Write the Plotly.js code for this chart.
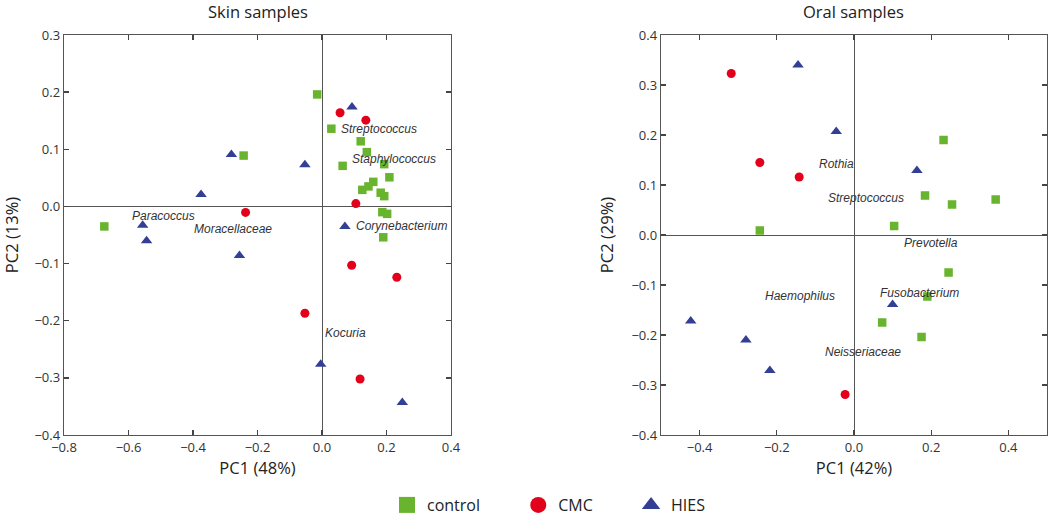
<!DOCTYPE html>
<html>
<head>
<meta charset="utf-8">
<script src="https://cdn.plot.ly/plotly-3.0.1.min.js"></script>
<style>html,body{margin:0;padding:0;background:#fff;}#chart{width:1050px;height:515px;}</style>
</head>
<body>
<div id="chart"></div>
<script>
// ---- Skin samples ----
const skinControlX = [-0.675, -0.243, -0.015, 0.029, 0.120, 0.139, 0.064, 0.193, 0.209, 0.159, 0.144, 0.125, 0.182, 0.193, 0.187, 0.202, 0.190];
const skinControlY = [-0.035, 0.089, 0.196, 0.136, 0.114, 0.095, 0.071, 0.074, 0.051, 0.043, 0.035, 0.029, 0.024, 0.018, -0.010, -0.013, -0.054];
const skinCMCX = [0.056, 0.136, 0.105, -0.237, 0.092, 0.232, -0.053, 0.118];
const skinCMCY = [0.164, 0.151, 0.005, -0.0105, -0.103, -0.124, -0.187, -0.302];
const skinHIESX = [0.093, -0.053, -0.281, -0.375, -0.556, -0.544, -0.256, 0.071, -0.004, 0.249];
const skinHIESY = [0.174, 0.073, 0.091, 0.021, -0.033, -0.060, -0.086, -0.035, -0.276, -0.343];
const skinLabels = ["Paracoccus", "Moracellaceae", "Streptococcus", "Staphylococcus", "Corynebacterium", "Kocuria"];
const skinLabelX = [-0.492, -0.276, 0.178, 0.223, 0.245, 0.073];
const skinLabelY = [-0.016, -0.040, 0.136, 0.083, -0.0345, -0.222];

// ---- Oral samples ----
const oralControlX = [0.232, 0.184, 0.254, 0.367, 0.104, -0.244, 0.245, 0.190, 0.073, 0.175];
const oralControlY = [0.190, 0.079, 0.061, 0.071, 0.018, 0.009, -0.075, -0.123, -0.175, -0.204];
const oralCMCX = [-0.318, -0.244, -0.142, -0.023];
const oralCMCY = [0.323, 0.145, 0.116, -0.319];
const oralHIESX = [-0.145, -0.046, 0.163, -0.423, -0.280, -0.218, 0.100];
const oralHIESY = [0.340, 0.207, 0.129, -0.172, -0.210, -0.271, -0.139];
const oralLabels = ["Rothia", "Streptococcus", "Prevotella", "Fusobacterium", "Haemophilus", "Neisseriaceae"];
const oralLabelX = [-0.046, 0.031, 0.199, 0.169, -0.141, 0.023];
const oralLabelY = [0.143, 0.075, -0.015, -0.115, -0.122, -0.233];

const groupNames = ["control", "CMC", "HIES"];
const panelTitles = ["Skin samples", "Oral samples"];
const xTitles = ["PC1 (48%)", "PC1 (42%)"];
const yTitles = ["PC2 (13%)", "PC2 (29%)"];

const GREEN = "#69b42e", RED = "#e3001b", BLUE = "#323f94";
const colors = [GREEN, RED, BLUE];
const symbols = ["square", "circle", "triangle-up"];
const sizes = [8.5, 9, 10];
const legendPad = [8, 8, 0]; // non-breaking-space padding after legend names

function pts(x, y, g, xa, ya) {
  return {type: "scatter", mode: "markers", x: x, y: y, xaxis: xa, yaxis: ya,
    name: groupNames[g], showlegend: false, hoverinfo: "x+y",
    marker: {color: colors[g], symbol: symbols[g], size: sizes[g], line: {width: 0}}};
}

const data = [
  pts(skinControlX, skinControlY, 0, "x", "y"),
  pts(skinCMCX, skinCMCY, 1, "x", "y"),
  pts(skinHIESX, skinHIESY, 2, "x", "y"),
  pts(oralControlX, oralControlY, 0, "x2", "y2"),
  pts(oralCMCX, oralCMCY, 1, "x2", "y2"),
  pts(oralHIESX, oralHIESY, 2, "x2", "y2")
];
// legend entries (larger symbols)
for (let g = 0; g < 3; g++) {
  data.push({type: "scatter", mode: "markers", x: [null], y: [null], xaxis: "x", yaxis: "y",
    name: groupNames[g] + "\u00a0".repeat(legendPad[g]), showlegend: true,
    marker: {color: colors[g], symbol: symbols[g], size: 16, line: {width: 0}}});
}

const FONT = "Open Sans, Noto Sans, sans-serif";
function axis(domain, range, dtick, title, anchor, isX) {
  return {domain: domain, range: range, dtick: dtick, tick0: 0, tickformat: ".1f",
    anchor: anchor, showgrid: false, zeroline: true, zerolinecolor: "#555", zerolinewidth: 1,
    showline: true, linecolor: "#555", linewidth: 1.3, mirror: "ticks",
    ticks: "inside", ticklen: 5, tickwidth: 1.3, tickcolor: "#444",
    tickfont: {family: FONT, size: 13, color: "#333"},
    title: {text: title, font: {family: FONT, size: 16.5, color: "#222"}, standoff: isX ? 7 : 13},
    fixedrange: true};
}

const annotations = [];
function addLabels(t, xs, ys, xa, ya) {
  for (let i = 0; i < t.length; i++) {
    annotations.push({text: t[i], x: xs[i], y: ys[i], xref: xa, yref: ya, showarrow: false,
      xanchor: "center", yanchor: "middle",
      font: {family: "Liberation Sans, Arial, sans-serif", size: 12, color: "#333", style: "italic"}});
  }
}
addLabels(skinLabels, skinLabelX, skinLabelY, "x", "y");
addLabels(oralLabels, oralLabelX, oralLabelY, "x2", "y2");

const xDom1 = [64/1050, 451/1050], xDom2 = [661/1050, 1047/1050];
annotations.push({text: panelTitles[0], xref: "paper", yref: "paper", x: (xDom1[0]+xDom1[1])/2, y: 1,
  yshift: 24, showarrow: false, xanchor: "center", yanchor: "middle",
  font: {family: FONT, size: 16.5, color: "#222"}});
annotations.push({text: panelTitles[1], xref: "paper", yref: "paper", x: (xDom2[0]+xDom2[1])/2, y: 1,
  yshift: 24, showarrow: false, xanchor: "center", yanchor: "middle",
  font: {family: FONT, size: 16.5, color: "#222"}});

const layout = {
  width: 1050, height: 515,
  margin: {l: 0, r: 0, t: 35, b: 80, autoexpand: false},
  paper_bgcolor: "#fff", plot_bgcolor: "#fff",
  xaxis: axis(xDom1, [-0.8, 0.4], 0.2, xTitles[0], "y", true),
  yaxis: axis([0, 1], [-0.4, 0.3], 0.1, yTitles[0], "x", false),
  xaxis2: axis(xDom2, [-0.5, 0.5], 0.2, xTitles[1], "y2", true),
  yaxis2: axis([0, 1], [-0.4, 0.4], 0.1, yTitles[1], "x2", false),
  showlegend: true,
  legend: {orientation: "h", x: 387/1050, xanchor: "left", y: -0.175, yanchor: "middle",
    font: {family: FONT, size: 16, color: "#222"}, bgcolor: "rgba(0,0,0,0)"},
  annotations: annotations
};

Plotly.newPlot("chart", data, layout, {staticPlot: true, displayModeBar: false});
</script>
</body>
</html>
